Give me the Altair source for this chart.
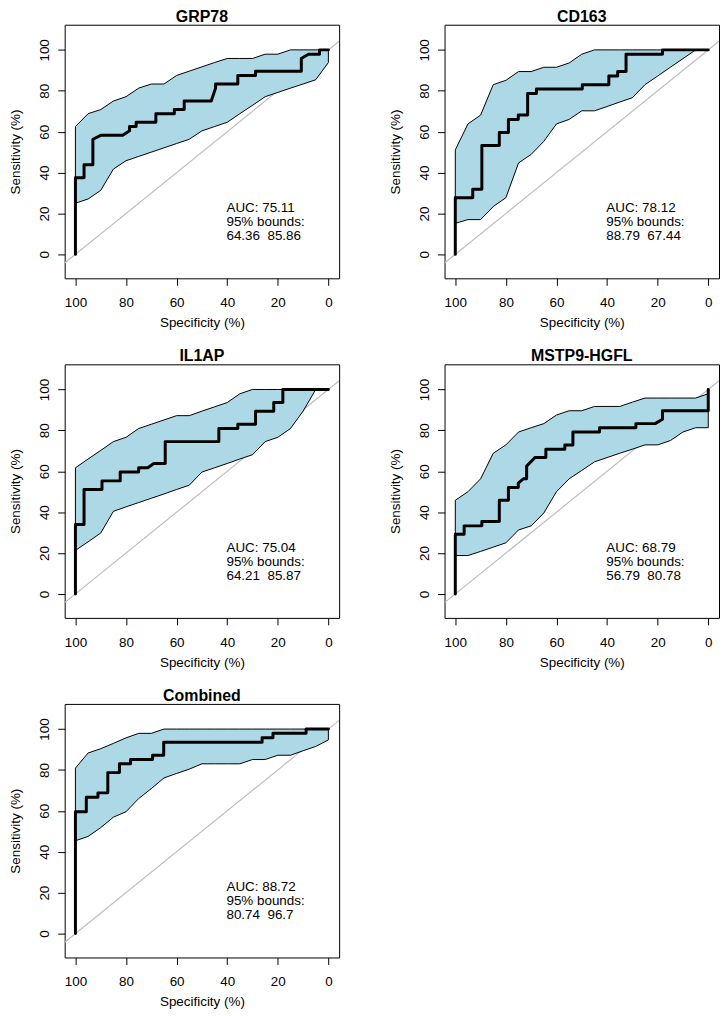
import altair as alt
import pandas as pd

FONT = "Liberation Sans"
BAND_FILL = "#ADD8E6"
DIAG_COLOR = "#BEBEBE"

# ---------------- data ----------------
panel_titles = ["GRP78", "CD163", "IL1AP", "MSTP9-HGFL", "Combined"]
auc_values = ["75.11", "78.12", "75.04", "68.79", "88.72"]
bound_a = ["64.36", "88.79", "64.21", "56.79", "80.74"]
bound_b = ["85.86", "67.44", "85.87", "80.78", "96.7"]

tick_values = [0, 20, 40, 60, 80, 100]

# specificities at which the sensitivity confidence band is given
band_spec = [100, 95, 90, 85, 80, 75, 70, 65, 60, 55, 50, 45, 40, 35, 30, 25, 20, 15, 10, 5, 0]

# GRP78
grp78_roc_spec = [100, 100, 96.6, 96.6, 93.1, 93.1, 89.8, 81.3, 78.6, 78.6, 76.0, 76.0, 68.2, 68.2,
                  60.9, 60.9, 57.0, 57.0, 46.3, 44.6, 44.6, 35.8, 35.8, 28.8, 28.8, 10.7, 10.7, 7.9,
                  3.5, 3.5, 0]
grp78_roc_sens = [0, 37.5, 37.5, 43.8, 43.8, 56.3, 58.3, 58.3, 60.4, 62.5, 62.5, 64.6, 64.6, 68.8,
                  68.8, 70.8, 70.8, 75.0, 75.0, 81.3, 83.3, 83.3, 87.5, 87.5, 89.6, 89.6, 95.8, 97.9,
                  97.9, 100, 100]
grp78_upper = [62.5, 68.8, 70.8, 75.0, 77.1, 81.3, 83.3, 83.3, 87.5, 89.6, 91.7, 93.8, 95.8, 95.8,
               95.8, 97.9, 97.9, 100, 100, 100, 100]
grp78_lower = [25.0, 27.1, 31.3, 41.7, 45.8, 47.9, 50.0, 52.1, 54.2, 56.3, 60.4, 62.5, 64.6, 68.8,
               72.9, 77.1, 79.2, 81.3, 83.3, 85.4, 93.8]

# CD163
cd163_roc_spec = [100, 100, 93.1, 93.1, 89.5, 89.5, 82.6, 82.6, 79.0, 79.0, 75.1, 75.1, 71.4, 71.4,
                  67.9, 67.9, 49.8, 49.8, 39.3, 39.3, 35.8, 35.8, 32.5, 32.5, 18.1, 18.1, 0]
cd163_roc_sens = [0, 27.7, 27.7, 31.9, 31.9, 53.2, 53.2, 59.6, 59.6, 66.0, 66.0, 68.1, 68.1, 78.7,
                  78.7, 80.9, 80.9, 83.0, 83.0, 87.2, 87.2, 89.4, 89.4, 97.9, 97.9, 100, 100]
cd163_upper = [51.1, 63.8, 68.1, 83.0, 85.1, 89.4, 89.4, 91.5, 91.5, 93.6, 97.9, 100, 100, 100,
               100, 100, 100, 100, 100, 100, 100]
cd163_lower = [15.2, 17.0, 17.0, 23.4, 27.7, 44.7, 48.9, 55.3, 63.8, 66.0, 70.2, 70.2, 72.3, 74.5,
               76.6, 83.0, 87.2, 91.5, 95.7, 100, 100]

# IL1AP
il1ap_roc_spec = [100, 100, 96.6, 96.6, 89.5, 89.5, 82.3, 82.3, 75.0, 75.0, 71.4, 69.0, 64.5, 64.5,
                  43.3, 43.3, 35.8, 35.8, 28.8, 28.8, 21.6, 21.6, 18.0, 18.0, 0]
il1ap_roc_sens = [0, 34.0, 34.0, 51.1, 51.1, 55.3, 55.3, 59.6, 59.6, 61.7, 61.7, 63.8, 63.8, 74.5,
                  74.5, 80.9, 80.9, 83.0, 83.0, 89.4, 89.4, 93.6, 93.6, 100, 100]
il1ap_upper = [61.7, 66.0, 70.2, 74.5, 76.6, 80.9, 83.0, 85.1, 87.2, 87.2, 89.4, 91.5, 93.6, 97.9,
               100, 100, 100, 100, 100, 100, 100]
il1ap_lower = [21.3, 25.5, 29.8, 40.4, 42.6, 44.7, 46.8, 48.9, 51.1, 53.2, 59.6, 61.7, 63.8, 66.0,
               68.1, 74.5, 76.6, 80.9, 89.4, 100, 100]

# MSTP9-HGFL
mstp_roc_spec = [100, 100, 96.5, 96.5, 89.5, 89.5, 82.6, 82.6, 79.0, 79.0, 75.1, 75.1, 73.1, 71.8,
                 71.8, 68.5, 64.2, 64.2, 56.7, 56.7, 53.5, 53.5, 43.0, 43.0, 28.6, 28.6, 21.0, 18.1,
                 18.1, 0, 0]
mstp_roc_sens = [0, 29.2, 29.2, 33.3, 33.3, 35.4, 35.4, 45.8, 45.8, 52.1, 52.1, 54.2, 56.3, 56.3,
                 62.5, 66.7, 66.7, 70.8, 70.8, 72.9, 72.9, 79.2, 79.2, 81.3, 81.3, 83.3, 83.3, 85.4,
                 89.6, 89.6, 100]
mstp_upper = [45.8, 50.0, 56.3, 68.8, 72.9, 79.2, 81.3, 83.3, 87.5, 89.6, 89.6, 91.7, 91.7, 91.7,
              93.8, 95.8, 95.8, 95.8, 95.8, 95.8, 97.9]
mstp_lower = [18.8, 18.8, 20.8, 22.9, 25.0, 31.3, 33.3, 39.6, 50.0, 56.3, 60.4, 64.6, 66.7, 68.8,
              70.8, 72.9, 72.9, 75.0, 79.2, 81.3, 81.3]

# Combined
comb_roc_spec = [100, 100, 95.7, 95.7, 91.1, 91.1, 87.2, 87.2, 82.6, 82.6, 78.2, 78.2, 69.5, 69.5,
                 65.1, 65.1, 26.2, 26.2, 21.9, 21.9, 8.8, 8.8, 0]
comb_roc_sens = [0, 59.6, 59.6, 66.7, 66.7, 68.8, 68.8, 78.7, 78.7, 83.0, 83.0, 85.1, 85.1, 87.2,
                 87.2, 93.6, 93.6, 95.7, 95.7, 97.9, 97.9, 100, 100]
comb_upper = [80.9, 88.3, 90.4, 93.0, 95.7, 97.9, 97.9, 100, 100, 100, 100, 100, 100, 100, 100,
              100, 100, 100, 100, 100, 100]
comb_lower = [45.4, 47.5, 51.8, 56.9, 59.6, 66.0, 70.9, 76.1, 78.3, 80.4, 83.0, 83.0, 83.0, 83.0,
              85.1, 85.1, 87.2, 87.2, 89.4, 91.5, 94.7]

series = [
    (grp78_roc_spec, grp78_roc_sens, grp78_upper, grp78_lower),
    (cd163_roc_spec, cd163_roc_sens, cd163_upper, cd163_lower),
    (il1ap_roc_spec, il1ap_roc_sens, il1ap_upper, il1ap_lower),
    (mstp_roc_spec, mstp_roc_sens, mstp_upper, mstp_lower),
    (comb_roc_spec, comb_roc_sens, comb_upper, comb_lower),
]

# ---------------- layout ----------------
XDOM = [-4.25, 104.25]
YDOM = [-11.7, 112.3]
W, H = 276, 255
TEXT_X = 40.3
TEXT_Y = [20.6, 13.8, 7.0]


def X(field):
    return alt.X(f"{field}:Q",
                 scale=alt.Scale(domain=XDOM, reverse=True, nice=False, zero=False),
                 axis=alt.Axis(values=tick_values, title="Specificity (%)"))


def Y(field):
    return alt.Y(f"{field}:Q",
                 scale=alt.Scale(domain=YDOM, nice=False, zero=False),
                 axis=alt.Axis(values=tick_values, title="Sensitivity (%)"))


def panel(k):
    roc_spec, roc_sens, upper, lower = series[k]
    diag = pd.DataFrame({"spec": [XDOM[1], XDOM[0]],
                         "sens": [100 - XDOM[1], 100 - XDOM[0]]})
    band = pd.DataFrame({"spec": band_spec, "lower": lower, "upper": upper})
    roc = pd.DataFrame({"spec": roc_spec, "sens": roc_sens, "i": list(range(len(roc_spec)))})
    txt = pd.DataFrame({
        "spec": [TEXT_X] * 3,
        "sens": TEXT_Y,
        "label": [f"AUC: {auc_values[k]}", "95% bounds:",
                  f"{bound_a[k]}\u00a0\u00a0{bound_b[k]}"],
    })

    l_diag = alt.Chart(diag).mark_line(color=DIAG_COLOR, strokeWidth=1.2, clip=True).encode(
        x=X("spec"), y=Y("sens"))
    l_band = alt.Chart(band).mark_area(fill=BAND_FILL, stroke="black", strokeWidth=1,
                                       opacity=1).encode(
        x=X("spec"), y=Y("lower"), y2="upper")
    l_roc = alt.Chart(roc).mark_line(color="black", strokeWidth=3, strokeJoin="round",
                                     strokeCap="round").encode(
        x=X("spec"), y=Y("sens"), order=alt.Order("i:Q"))
    l_txt = alt.Chart(txt).mark_text(align="left", baseline="alphabetic", font=FONT,
                                     fontSize=13.5, color="black").encode(
        x=X("spec"), y=Y("sens"), text="label:N")

    return alt.layer(l_diag, l_band, l_roc, l_txt).properties(
        width=W, height=H,
        title=alt.TitleParams(panel_titles[k], font=FONT, fontSize=16, fontWeight="bold",
                              color="black", anchor="middle", frame="group", offset=0))


row1 = alt.hconcat(panel(0), panel(1), spacing=48)
row2 = alt.hconcat(panel(2), panel(3), spacing=48)
row3 = alt.hconcat(panel(4), spacing=48)

chart = alt.vconcat(row1, row2, row3, spacing=17.5).properties(
    padding={"left": 0, "top": -3, "right": 0, "bottom": 0}
).configure_view(
    stroke="black", strokeWidth=1
).configure_axis(
    grid=False, domain=False, ticks=True, tickColor="black", tickSize=7, tickWidth=1,
    labelFont=FONT, labelFontSize=13.5, labelColor="black", labelOverlap=False,
    labelFlush=False, titleFont=FONT, titleFontSize=13.5, titleFontWeight="normal",
    titleColor="black"
).configure_axisX(
    labelPadding=10.5, titleY=48.5, titleBaseline="alphabetic"
).configure_axisY(
    labelAngle=270, labelAlign="center", labelBaseline="alphabetic", labelPadding=9,
    titleX=-45, titleAngle=270, titleBaseline="alphabetic", titleAlign="center"
)

chart.save("out.html", embed_options={"renderer": "svg", "actions": False})
